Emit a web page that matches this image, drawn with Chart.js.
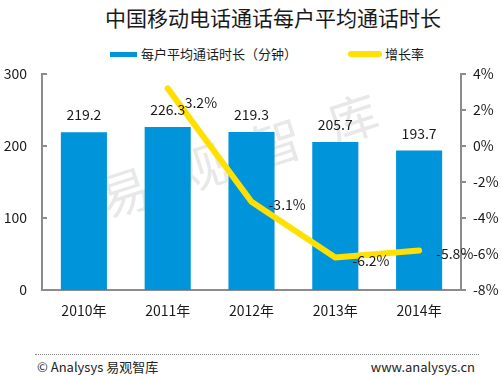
<!DOCTYPE html>
<html>
<head>
<meta charset="utf-8">
<script src="https://cdn.jsdelivr.net/npm/chart.js@4"></script>
<style>
  body { margin: 0; background: #fff; }
  #wrap { position: relative; width: 502px; height: 376px; overflow: hidden;
          font-family: "Noto Sans CJK SC", "Noto Sans", sans-serif; color: #1a1a1a; }
  #wrap div { position: absolute; white-space: nowrap; }
  #chart { position: absolute; left: 0; top: 0; z-index: 2; }
  .title { left: 105px; top: 3px; font-size: 21px; line-height: 28px; }
  .legtxt { font-size: 13px; line-height: 18px; top: 45px; }
  .paren { display: inline-block; width: 1em; text-align: center; }
  .foot { font-size: 13px; line-height: 16px; top: 359px; color: #222; }
  .mark { left: 252px; top: 148px; font-size: 50px; color: #e8e8e8; letter-spacing: 30px;
          transform: translate(-50%, -50%) rotate(-18deg); z-index: 1; }
</style>
</head>
<body>
<div id="wrap">
  <div class="mark">易观智库</div>
  <canvas id="chart" width="502" height="376"></canvas>
  <div class="title">中国移动电话通话每户平均通话时长</div>
  <div style="left:110px;top:52px;width:27px;height:5px;background:#0095da"></div>
  <div class="legtxt" style="left:141px">每户平均通话时长<span class="paren">（</span>分钟<span class="paren">）</span></div>
  <div style="left:348px;top:51px;width:34px;height:6px;border-radius:3px;background:#ffe000"></div>
  <div class="legtxt" style="left:385px">增长率</div>
  <div style="left:35px;top:354px;width:444px;border-top:1px dotted #888"></div>
  <div class="foot" style="left:37px">© Analysys 易观智库</div>
  <div class="foot" style="right:27px">www.analysys.cn</div>
</div>
<script>
const years = ["2010年", "2011年", "2012年", "2013年", "2014年"];
const minutes = [219.2, 226.3, 219.3, 205.7, 193.7];
const growth = [null, 3.2, -3.1, -6.2, -5.8]; // %
const leftTicks = [0, 100, 200, 300];
const rightTicks = [-8, -6, -4, -2, 0, 2, 4];

const FONT = "'Noto Sans CJK SC', 'Noto Sans', sans-serif";

// value labels above bars and to the right of line points
const valueLabels = {
    id: "valueLabels",
    afterDatasetsDraw(chart) {
        const c = chart.ctx;
        c.save();
        c.font = "14px " + FONT;
        c.fillStyle = "#1a1a1a";
        c.textBaseline = "middle";

        c.textAlign = "center";
        chart.getDatasetMeta(0).data.forEach((el, i) => {
            c.fillText(minutes[i].toFixed(1), el.x, el.y - 17);
        });

        c.textAlign = "left";
        chart.getDatasetMeta(1).data.forEach((el, i) => {
            if (growth[i] === null) return;
            const dy = i === 1 ? 14 : 3;
            c.fillText(growth[i].toFixed(1) + "%", el.x + 17, el.y + dy);
        });
        c.restore();
    }
};

// the left axis has its small tick marks pointing into the plot
const innerTicks = {
    id: "innerTicks",
    afterDraw(chart) {
        const s = chart.scales.y;
        const c = chart.ctx;
        c.save();
        c.strokeStyle = "#8c8c8c";
        c.lineWidth = 2;
        leftTicks.forEach(v => {
            const y = Math.round(s.getPixelForValue(v));
            c.beginPath();
            c.moveTo(s.right, y);
            c.lineTo(s.right + 5, y);
            c.stroke();
        });
        c.restore();
    }
};

new Chart(document.getElementById("chart"), {
    type: "bar",
    data: {
        labels: years,
        datasets: [
            {
                label: "每户平均通话时长（分钟）",
                data: minutes,
                yAxisID: "y",
                backgroundColor: "#0095da",
                categoryPercentage: 1,
                barPercentage: 0.55,
                order: 1,
            },
            {
                type: "line",
                label: "增长率",
                data: growth,
                yAxisID: "y1",
                borderColor: "#ffe000",
                borderWidth: 6,
                borderCapStyle: "round",
                borderJoinStyle: "round",
                pointRadius: 0,
                tension: 0,
                order: 0,
            },
        ],
    },
    options: {
        responsive: false,
        animation: false,
        devicePixelRatio: 1,
        layout: { padding: { top: 74, bottom: 56, left: 0, right: 0 } },
        plugins: {
            legend: { display: false },
            title: { display: false },
            tooltip: { enabled: false },
        },
        scales: {
            x: {
                grid: { display: false, drawTicks: false },
                border: { display: true, color: "#8c8c8c", width: 2 },
                ticks: { color: "#1a1a1a", font: { size: 14, family: FONT }, padding: 12 },
                afterFit: s => { s.height = 30; },
            },
            y: {
                position: "left",
                min: 0,
                max: 300,
                afterBuildTicks: s => { s.ticks = leftTicks.map(v => ({ value: v })); },
                grid: { display: false, drawTicks: false },
                border: { display: true, color: "#8c8c8c", width: 2 },
                ticks: { color: "#1a1a1a", font: { size: 14, family: FONT }, padding: 15 },
                afterFit: s => { s.width = 42; },
            },
            y1: {
                position: "right",
                min: -8,
                max: 4,
                afterBuildTicks: s => { s.ticks = rightTicks.map(v => ({ value: v })); },
                grid: { drawOnChartArea: false, color: "#8c8c8c", lineWidth: 2, tickLength: 5 },
                border: { display: true, color: "#8c8c8c", width: 2 },
                ticks: {
                    color: "#1a1a1a",
                    font: { size: 14, family: FONT },
                    padding: 7,
                    callback: v => v + "%",
                },
                afterFit: s => { s.width = 41; },
            },
        },
    },
    plugins: [valueLabels, innerTicks],
});
</script>
</body>
</html>
